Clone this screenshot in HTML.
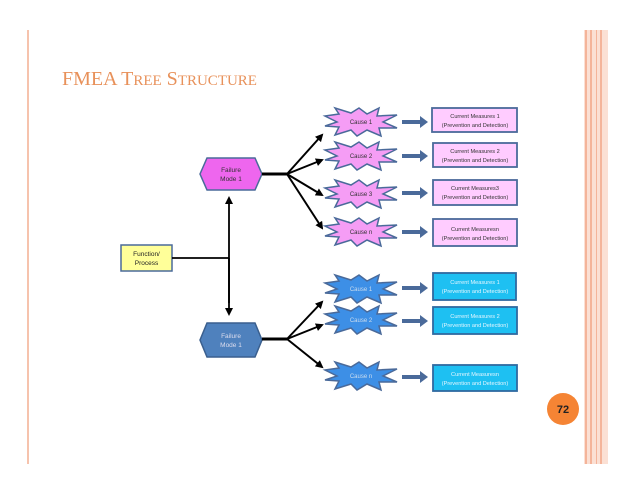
<!DOCTYPE html>
<html><head><meta charset="utf-8"><style>
html,body{margin:0;padding:0;background:#fff;}
svg{display:block;}
</style></head><body>
<svg width="638" height="493" viewBox="0 0 638 493" xmlns="http://www.w3.org/2000/svg" font-family="Liberation Sans, sans-serif">
<defs>
<marker id="ah" markerWidth="8" markerHeight="8" refX="6" refY="4" orient="auto" markerUnits="userSpaceOnUse"><path d="M0,0 L8,4 L0,8 z" fill="#000"/></marker>
<polygon id="star" points="-36,-6 -22,-8 -26,-14 -10,-9 -2,-14 6,-8 18,-14 16,-6 36,-7 22,0 36,6 18,6 20,14 6,8 -4,14 -10,8 -26,13 -22,5 -36,4 -24,0"/>
</defs>
<!-- borders -->
<rect x="27" y="30" width="2" height="434" fill="#f6c3ad"/>
<rect x="584" y="30" width="24" height="434" fill="#fbe0d4"/>
<rect x="585" y="30" width="2" height="434" fill="#f4b49a"/>
<rect x="590" y="30" width="2" height="434" fill="#f4b49a"/>
<rect x="596" y="30" width="1" height="434" fill="#f4b49a"/>
<rect x="600" y="30" width="2" height="434" fill="#f4b49a"/>
<text x="62" y="85" font-family="Liberation Serif, serif" font-size="20" fill="#e8915a">FMEA T<tspan font-size="15">REE</tspan> S<tspan font-size="15">TRUCTURE</tspan></text>

<!-- function box -->
<rect x="121" y="245" width="51" height="26" fill="#ffff99" stroke="#4a6a9a" stroke-width="1.5"/>
<text x="146.5" y="256" font-size="6.5" text-anchor="middle" fill="#222">Function/</text>
<text x="146.5" y="265" font-size="6.5" text-anchor="middle" fill="#222">Process</text>
<line x1="172" y1="258" x2="229" y2="258" stroke="#000" stroke-width="1.8"/>
<line x1="229" y1="303" x2="229" y2="198" stroke="#000" stroke-width="1.8" marker-end="url(#ah)"/>
<line x1="229" y1="258" x2="229" y2="314" stroke="#000" stroke-width="1.8" marker-end="url(#ah)"/>

<!-- upper failure mode -->
<polygon points="200,174 207,158 255,158 262,174 255,190 207,190" fill="#ee66ee" stroke="#4a6a9a" stroke-width="1.5"/>
<text x="231" y="172" font-size="6.5" text-anchor="middle" fill="#333">Failure</text>
<text x="231" y="181" font-size="6.5" text-anchor="middle" fill="#333">Mode 1</text>
<line x1="262" y1="174" x2="287" y2="174" stroke="#000" stroke-width="3"/>
<g stroke="#000" stroke-width="2" marker-end="url(#ah)">
<line x1="287" y1="174" x2="322" y2="135"/>
<line x1="287" y1="174" x2="322" y2="160"/>
<line x1="287" y1="174" x2="322" y2="195"/>
<line x1="287" y1="174" x2="322" y2="228"/>
</g>
<g fill="#f59df5" stroke="#4a6a9a" stroke-width="1.5">
<use href="#star" x="361" y="122"/>
<use href="#star" x="361" y="156"/>
<use href="#star" x="361" y="194"/>
<use href="#star" x="361" y="232"/>
</g>
<g font-size="6" text-anchor="middle" fill="#333">
<text x="361" y="124">Cause 1</text>
<text x="361" y="158">Cause 2</text>
<text x="361" y="196">Cause 3</text>
<text x="361" y="234">Cause n</text>
</g>
<!-- lower failure mode -->
<polygon points="200,340 207,323 255,323 262,340 255,357 207,357" fill="#4f81bd" stroke="#3a5f8e" stroke-width="1.5"/>
<text x="231" y="338" font-size="6.5" text-anchor="middle" fill="#dde">Failure</text>
<text x="231" y="347" font-size="6.5" text-anchor="middle" fill="#dde">Mode 1</text>
<line x1="262" y1="339" x2="287" y2="339" stroke="#000" stroke-width="3"/>
<g stroke="#000" stroke-width="2" marker-end="url(#ah)">
<line x1="287" y1="339" x2="322" y2="302"/>
<line x1="287" y1="339" x2="322" y2="325"/>
<line x1="287" y1="339" x2="322" y2="367"/>
</g>
<g fill="#3d8fe6" stroke="#4a6a9a" stroke-width="1.5">
<use href="#star" x="361" y="289"/>
<use href="#star" x="361" y="320"/>
<use href="#star" x="361" y="376"/>
</g>
<g font-size="6" text-anchor="middle" fill="#cde">
<text x="361" y="291">Cause 1</text>
<text x="361" y="322">Cause 2</text>
<text x="361" y="378">Cause n</text>
</g>
<!-- block arrows -->
<g fill="#4a6a9a">
<path d="M402,123 h18 v-4 l8,6 l-8,6 v-4 h-18z" transform="translate(0,-3)"/>
<path d="M402,154 h18 v-4 l8,6 l-8,6 v-4 h-18z"/>
<path d="M402,191 h18 v-4 l8,6 l-8,6 v-4 h-18z"/>
<path d="M402,230 h18 v-4 l8,6 l-8,6 v-4 h-18z"/>
<path d="M402,286 h18 v-4 l8,6 l-8,6 v-4 h-18z"/>
<path d="M402,319 h18 v-4 l8,6 l-8,6 v-4 h-18z"/>
<path d="M402,375 h18 v-4 l8,6 l-8,6 v-4 h-18z"/>
</g>
<!-- measure boxes -->
<g fill="#ffccff" stroke="#4a6a9a" stroke-width="1.8">
<rect x="432" y="108" width="85" height="24"/>
<rect x="433" y="143" width="84" height="24"/>
<rect x="433" y="180" width="84" height="25"/>
<rect x="433" y="219" width="84" height="27"/>
</g>
<g fill="#1ec0f2" stroke="#2f6aa0" stroke-width="1.8">
<rect x="433" y="273" width="83" height="27"/>
<rect x="433" y="307" width="84" height="27"/>
<rect x="433" y="365" width="84" height="26"/>
</g>
<g font-size="5.6" text-anchor="middle" fill="#333">
<text x="475" y="118">Current Measures 1</text><text x="475" y="127">(Prevention and Detection)</text>
<text x="475" y="153">Current Measures 2</text><text x="475" y="162">(Prevention and Detection)</text>
<text x="475" y="190">Current Measures3</text><text x="475" y="199">(Prevention and Detection)</text>
<text x="475" y="231">Current Measuresn</text><text x="475" y="240">(Prevention and Detection)</text>
</g>
<g font-size="5.6" text-anchor="middle" fill="#e6f6ff">
<text x="475" y="284">Current Measures 1</text><text x="475" y="293">(Prevention and Detection)</text>
<text x="475" y="318">Current Measures 2</text><text x="475" y="327">(Prevention and Detection)</text>
<text x="475" y="376">Current Measuresn</text><text x="475" y="385">(Prevention and Detection)</text>
</g>
<circle cx="563" cy="409" r="16" fill="#f58434"/>
<text x="563" y="413" font-size="11" font-weight="bold" text-anchor="middle" fill="#222">72</text>
</svg>
</body></html>
